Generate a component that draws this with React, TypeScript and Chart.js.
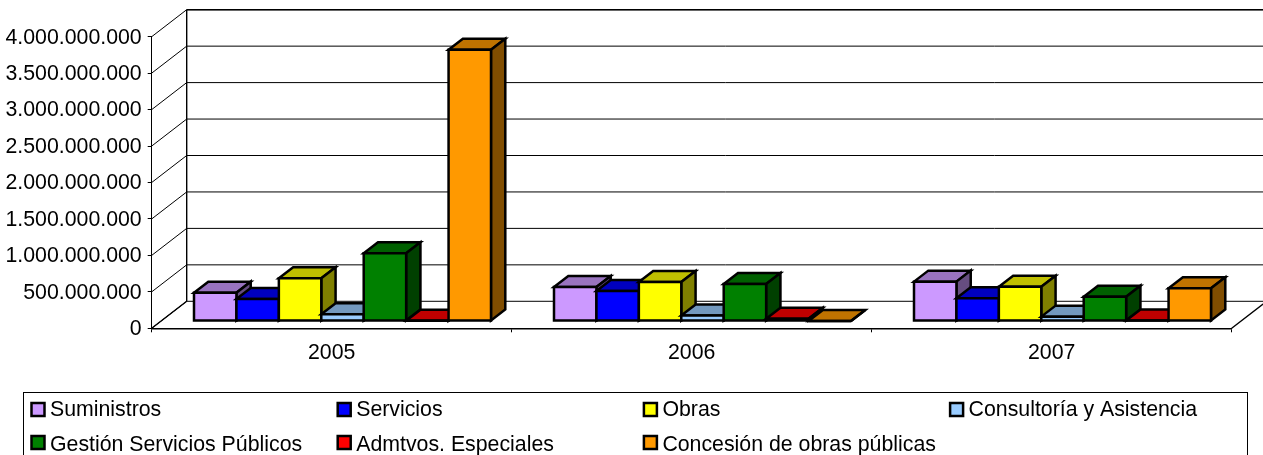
import React, { useEffect, useRef } from "react";
import { Chart, registerables } from "chart.js";

Chart.register(...registerables);

const categories = ["2005", "2006", "2007"];
const suministros = [389000000, 467000000, 540000000];
const servicios = [302000000, 412000000, 312000000];
const obras = [586000000, 536000000, 471000000];
const consultoria = [92000000, 75000000, 60000000];
const gestion = [930000000, 508000000, 334000000];
const admtvos = [5000000, 30000000, 8000000];
const concesion = [3722000000, 0, 449000000];

const seriesNames = [
  "Suministros",
  "Servicios",
  "Obras",
  "Consultoría y Asistencia",
  "Gestión Servicios Públicos",
  "Admtvos. Especiales",
  "Concesión de obras públicas",
];
const seriesValues = [suministros, servicios, obras, consultoria, gestion, admtvos, concesion];
const seriesRgb = [
  [204, 153, 255],
  [0, 0, 255],
  [255, 255, 0],
  [153, 204, 255],
  [0, 128, 0],
  [255, 0, 0],
  [255, 153, 0],
];

const FONT = '21.3px "Liberation Sans", Arial, sans-serif';
const WALL_DX = 35;
const WALL_DY = -27;
const BAR_DX = 10.8;
const BAR_DY = -7.3;
const DEPTH_DX = 14.3;
const DEPTH_DY = -11;

const shade = (rgb: number[], f: number) =>
  `rgb(${rgb.map((c) => Math.round(c * f)).join(",")})`;

function poly(ctx: CanvasRenderingContext2D, pts: number[][], fill: string | null, stroke = true) {
  ctx.beginPath();
  pts.forEach(([x, y], i) => (i ? ctx.lineTo(x, y) : ctx.moveTo(x, y)));
  ctx.closePath();
  if (fill) {
    ctx.fillStyle = fill;
    ctx.fill();
  }
  if (stroke) ctx.stroke();
}

const walls3d = {
  id: "walls3d",
  beforeDatasetsDraw(chart: any) {
    const { ctx, scales } = chart;
    const y = scales.y;
    const x = scales.x;
    const left = x.left;
    const right = x.right;
    const c = ctx as CanvasRenderingContext2D;
    c.save();
    c.strokeStyle = "#000";
    c.lineWidth = 1;
    const backRight = right + WALL_DX;
    y.ticks.forEach((t: any) => {
      const py = y.getPixelForValue(t.value);
      c.beginPath();
      c.moveTo(left, py);
      c.lineTo(left + WALL_DX, py + WALL_DY);
      c.lineTo(backRight, py + WALL_DY);
      c.stroke();
    });
    const top = y.getPixelForValue(y.max);
    const bot = y.getPixelForValue(0);
    c.lineWidth = 1.4;
    c.beginPath();
    c.moveTo(left + WALL_DX, top + WALL_DY);
    c.lineTo(backRight, top + WALL_DY);
    c.moveTo(left + WALL_DX, top + WALL_DY);
    c.lineTo(left + WALL_DX, bot + WALL_DY);
    c.moveTo(left, bot);
    c.lineTo(left + WALL_DX, bot + WALL_DY);
    c.moveTo(right, bot);
    c.lineTo(backRight, bot + WALL_DY);
    c.stroke();

    // bars, left to right inside each category, so each one covers its neighbour's side
    c.lineWidth = 2.5;
    c.lineJoin = "miter";
    c.strokeStyle = "#000";
    chart.data.labels.forEach((_: string, ci: number) => {
      seriesValues.forEach((__, si) => {
        const bar = chart.getDatasetMeta(si).data[ci] as any;
        const rgb = seriesRgb[si];
        const x0 = bar.x - bar.width / 2 + BAR_DX;
        const x1 = bar.x + bar.width / 2 + BAR_DX;
        const yT = bar.y + BAR_DY;
        const yB = bar.base + BAR_DY;
        poly(c, [[x0, yT], [x0 + DEPTH_DX, yT + DEPTH_DY], [x1 + DEPTH_DX, yT + DEPTH_DY], [x1, yT]], shade(rgb, 0.75));
        poly(c, [[x1, yT], [x1 + DEPTH_DX, yT + DEPTH_DY], [x1 + DEPTH_DX, yB + DEPTH_DY], [x1, yB]], shade(rgb, 0.5));
        c.save();
        c.translate(BAR_DX, BAR_DY);
        bar.draw(c);
        c.restore();
        poly(c, [[x0, yT], [x1, yT], [x1, yB], [x0, yB]], null);
      });
    });
    c.restore();
    return false;
  },
};

const boxLegend = {
  id: "boxLegend",
  afterDraw(chart: any) {
    const c = chart.ctx as CanvasRenderingContext2D;
    c.save();
    c.strokeStyle = "#000";
    c.lineWidth = 1;
    c.strokeRect(23.5, 392.5, 1224, 70);
    c.font = FONT;
    c.textBaseline = "middle";
    c.textAlign = "left";
    chart.data.datasets.forEach((ds: any, i: number) => {
      const col = i % 4;
      const row = Math.floor(i / 4);
      const sx = 31.5 + col * 306.2;
      const cy = 409.5 + row * 33;
      c.fillStyle = ds.backgroundColor;
      c.lineWidth = 2.5;
      c.fillRect(sx, cy - 6.5, 13, 13);
      c.strokeRect(sx, cy - 6.5, 13, 13);
      c.fillStyle = "#000";
      c.fillText(ds.label, sx + 18.5, cy + 1 + row * 1.5);
    });
    c.restore();
  },
};

export default function App() {
  const ref = useRef<HTMLCanvasElement>(null);
  useEffect(() => {
    const chart = new Chart(ref.current as HTMLCanvasElement, {
      type: "bar",
      data: {
        labels: categories,
        datasets: seriesNames.map((label, i) => ({
          label,
          data: seriesValues[i],
          backgroundColor: shade(seriesRgb[i], 1),
          borderWidth: 0,
          barPercentage: 1,
          categoryPercentage: 0.825,
        })),
      },
      options: {
        responsive: false,
        animation: false,
        layout: { padding: { top: 36.7, right: 31.3, left: 0, bottom: 0 } },
        plugins: { legend: { display: false }, tooltip: { enabled: false }, title: { display: false } },
        scales: {
          x: {
            offset: true,
            afterFit: (s: any) => {
              s.height = 455 - 328.3;
            },
            grid: { display: true, drawOnChartArea: false, offset: true, color: "#000", tickLength: 4, lineWidth: 1 },
            border: { color: "#000", width: 1.4 },
            ticks: { color: "#000", font: { family: '"Liberation Sans", Arial, sans-serif', size: 21.3 }, padding: 8, maxRotation: 0 },
          },
          y: {
            min: 0,
            max: 4000000000,
            afterFit: (s: any) => {
              s.width = 151.7;
            },
            afterUpdate: (s: any) => {
              if (s.__shifted) return;
              s.__shifted = true;
              const orig = s.drawLabels;
              s.drawLabels = function (area: any) {
                s.ctx.save();
                s.ctx.translate(0, 1);
                orig.call(s, area);
                s.ctx.restore();
              };
            },
            grid: { display: true, drawOnChartArea: false, color: "#000", tickLength: 4, lineWidth: 1 },
            border: { color: "#000", width: 1 },
            ticks: {
              stepSize: 500000000,
              color: "#000",
              padding: 6,
              font: { family: '"Liberation Sans", Arial, sans-serif', size: 21.3 },
              callback: (v: any) => String(v).replace(/\B(?=(\d{3})+(?!\d))/g, "."),
            },
          },
        },
      },
      plugins: [walls3d, boxLegend],
    } as any);
    return () => chart.destroy();
  }, []);
  return (
    <div style={{ position: "absolute", left: 0, top: 0, width: 1263, height: 455, overflow: "hidden", background: "#fff" }}>
      <canvas ref={ref} width={1263} height={455} style={{ display: "block" }} />
    </div>
  );
}
